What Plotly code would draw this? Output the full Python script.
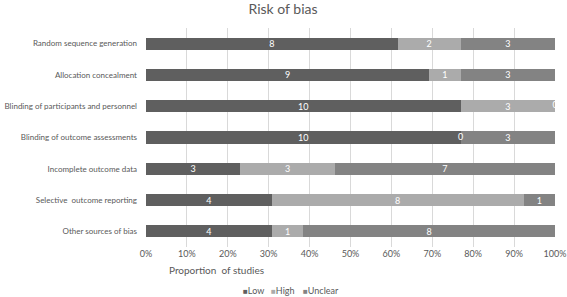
import plotly.graph_objects as go

categories = [
    "Random sequence generation",
    "Allocation concealment",
    "Blinding of participants and personnel",
    "Blinding of outcome assessments",
    "Incomplete outcome data",
    "Selective  outcome reporting",
    "Other sources of bias",
]
low = [8, 9, 10, 10, 3, 4, 4]
high = [2, 1, 3, 0, 3, 8, 1]
unclear = [3, 3, 0, 3, 7, 1, 8]
series_names = ["Low", "High", "Unclear"]
colors = ["#5f5f5f", "#ababab", "#838383"]
x_ticks = [0, 10, 20, 30, 40, 50, 60, 70, 80, 90, 100]
x_ticktext = [f"{t}%" for t in x_ticks]

FONT = "Lato"
GREY = "#595959"

fig = go.Figure()
series = [low, high, unclear]
for name, vals, col in zip(series_names, series, colors):
    fig.add_trace(go.Bar(
        y=categories, x=vals, name=name, orientation="h",
        marker=dict(color=col, line=dict(width=0)),
        text=[str(v) if v else "" for v in vals],
        textposition="inside", insidetextanchor="middle", textangle=0,
        constraintext="none",
        textfont=dict(color="white", size=9, family=FONT),
        hoverinfo="skip", showlegend=False,
    ))

# zero-count labels (Excel still shows them at the segment boundary)
zx, zy, zt = [], [], []
for i, cat in enumerate(categories):
    tot = sum(s[i] for s in series)
    cum = 0
    for s in series:
        if s[i] == 0:
            zx.append(cum / tot * 100)
            zy.append(cat)
            zt.append("0")
        cum += s[i]
fig.add_trace(go.Scatter(x=zx, y=zy, text=zt, mode="text", cliponaxis=False,
                         textfont=dict(color="white", size=9, family=FONT),
                         showlegend=False, hoverinfo="skip"))

# custom legend (Excel style: small square + name)
legend_x = [241, 269, 301]
annotations = [dict(text="Proportion  of studies", xref="paper", yref="paper",
                    x=(216 - 146) / 409, y=-0.105, xanchor="center", yanchor="middle",
                    showarrow=False, font=dict(size=10, color=GREY, family=FONT))]
for name, col, lx in zip(series_names, colors, legend_x):
    annotations.append(dict(
        text=f"<span style='color:{col};font-size:8px'>■</span>{name}",
        xref="paper", yref="paper",
        x=(lx - 146) / 409, y=-0.2, xanchor="left", yanchor="middle", showarrow=False,
        font=dict(size=9, color=GREY, family=FONT)))

fig.update_layout(
    width=567, height=297,
    barmode="stack", barnorm="percent", bargap=0.61,
    margin=dict(l=146, r=12, t=28, b=50, autoexpand=False),
    paper_bgcolor="white", plot_bgcolor="white",
    font=dict(family=FONT, size=9, color=GREY),
    title=dict(text="Risk of bias", x=283 / 567, xanchor="center", y=1 - 9 / 297,
               yanchor="middle", font=dict(size=14, color=GREY, family=FONT)),
    showlegend=False,
    xaxis=dict(range=[0, 100], tickvals=x_ticks, ticktext=x_ticktext, showgrid=True,
               gridcolor="#d9d9d9", gridwidth=1, zeroline=False, showline=False,
               tickfont=dict(size=9, color=GREY), fixedrange=True, automargin=False),
    yaxis=dict(autorange="reversed", showgrid=False, showline=False, ticks="",
               ticklabelstandoff=8, tickfont=dict(size=8, color=GREY), automargin=False,
               fixedrange=True),
    annotations=annotations,
)

fig.write_html("out.html", config={"displayModeBar": False},
               post_script="document.body.style.margin='0';document.body.style.overflow='hidden';")
